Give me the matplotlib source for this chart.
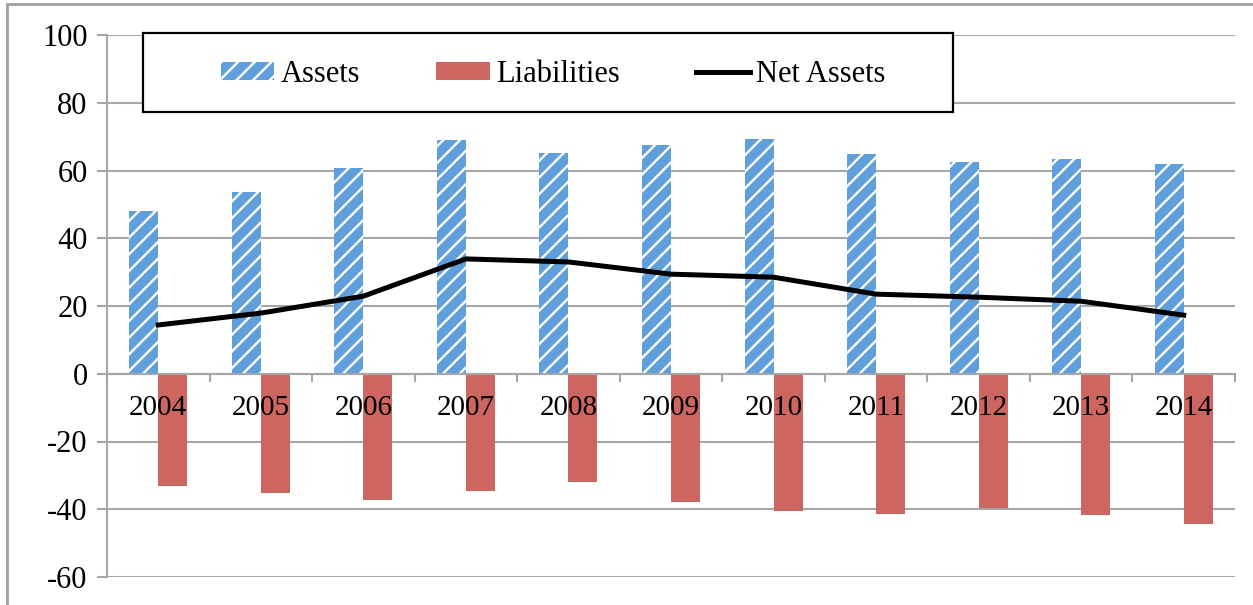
import numpy as np
import matplotlib.pyplot as plt
from matplotlib.patches import Rectangle

years = ['2004', '2005', '2006', '2007', '2008', '2009', '2010', '2011', '2012', '2013', '2014']
assets = [48.0, 53.7, 60.7, 69.0, 65.2, 67.5, 69.3, 64.9, 62.5, 63.4, 61.9]
liabilities = [-33.1, -35.2, -37.3, -34.6, -32.0, -37.9, -40.5, -41.4, -39.6, -41.7, -44.4]
net_assets = [14.4, 17.9, 22.9, 33.9, 33.0, 29.4, 28.5, 23.5, 22.6, 21.4, 17.3]

plt.rcParams['font.family'] = ['Liberation Serif', 'DejaVu Serif']
plt.rcParams['axes.unicode_minus'] = False
plt.rcParams['hatch.linewidth'] = 1.7

W, H = 1253, 605
fig = plt.figure(figsize=(W/100, H/100), dpi=100)
ax = fig.add_axes([107/W, 1 - 577/H, 1128/W, 542/H])

# outer chart frame (left and top edges visible)
fig.patches.append(Rectangle((7/W, -0.05), 1.2, 1 - 4/H + 0.05, transform=fig.transFigure,
                             fill=False, edgecolor='#a0a0a0', linewidth=2, zorder=0))

x = np.arange(len(years))
w = 0.283
grid_c = '#a6a6a6'

b1 = ax.bar(x - w/2, assets, w, color='#5f9fdc', edgecolor='white', linewidth=0,
            hatch='//', label='Assets', zorder=2)
b2 = ax.bar(x + w/2, liabilities, w, color='#cd6660', edgecolor='#cd6660', linewidth=0,
            label='Liabilities', zorder=2)
l1, = ax.plot(x, net_assets, color='black', linewidth=3.6, label='Net Assets', zorder=3)

ax.set_xlim(-0.5, len(years) - 0.5)
ax.set_ylim(-60, 100)
ax.set_yticks(np.arange(-60, 101, 20))
ax.yaxis.grid(True, color=grid_c, linewidth=1.5)
ax.set_axisbelow(True)

for s in ['top', 'right']:
    ax.spines[s].set_visible(False)
ax.spines['left'].set_color(grid_c)
ax.spines['left'].set_linewidth(1.5)
ax.spines['bottom'].set_position(('data', 0))
ax.spines['bottom'].set_color(grid_c)
ax.spines['bottom'].set_linewidth(1.5)
ax.spines['bottom'].set_zorder(2.6)

ax.set_xticks(np.arange(-0.5, len(years), 1))
ax.set_xticklabels([])
ax.tick_params(axis='x', direction='out', length=6, width=1.5, color=grid_c)
ax.tick_params(axis='y', direction='out', length=7, width=1.5, color=grid_c,
               labelsize=22, pad=7)

for i, yr in enumerate(years):
    ax.annotate(yr, (i, 0), xytext=(0, -25), textcoords='offset points',
                ha='center', va='center', fontsize=21, zorder=5)

# legend box (frame drawn separately so it can be wider than its content)
lx0, lx1, ly0, ly1 = 143, 953, 33, 112
ax.add_patch(Rectangle((lx0/W, 1 - ly1/H), (lx1 - lx0)/W, (ly1 - ly0)/H,
                       transform=fig.transFigure, facecolor='white', edgecolor='black',
                       linewidth=1.6, zorder=9, clip_on=False))
leg = ax.legend([b1, b2, l1], ['Assets', 'Liabilities', 'Net Assets'],
                loc='center', bbox_to_anchor=((lx0 + lx1)/2/W + 5/W, 1 - (ly0 + ly1)/2/H - 2/H),
                bbox_transform=fig.transFigure, ncol=3, fontsize=22, frameon=False,
                handlelength=1.75, handleheight=0.5, handletextpad=0.2,
                borderpad=0, borderaxespad=0, columnspacing=2.5)
leg.set_zorder(10)

fig.savefig('out.png', dpi=100)
